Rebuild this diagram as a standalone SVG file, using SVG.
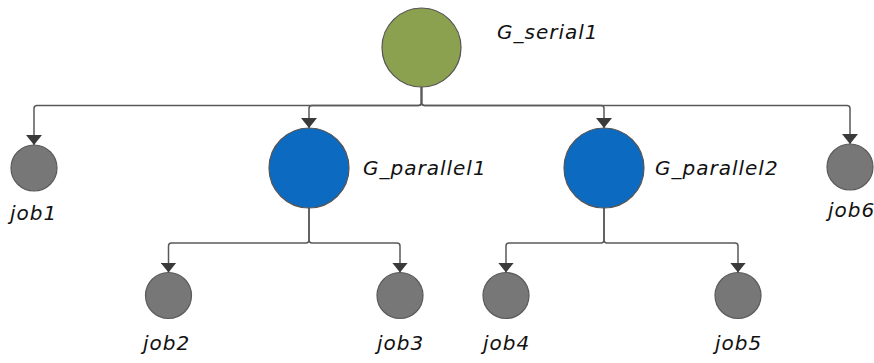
<svg xmlns="http://www.w3.org/2000/svg" width="874" height="363" viewBox="0 0 874 363">
<style>
.conn{fill:none;stroke:#595959;stroke-width:1.5}
.serial{fill:#8ca150;stroke:#555;stroke-width:1.2}
.par{fill:#0c6ac0;stroke:#555;stroke-width:1.2}
.job{fill:#777;stroke:#5a5a5a;stroke-width:1.2}
.lbl{font-family:"DejaVu Sans",sans-serif;font-style:oblique;font-size:20px;fill:#111;letter-spacing:1px}
</style>
<defs>
<marker id="arr" viewBox="0 -8 10 16" refX="10" refY="0" markerWidth="10" markerHeight="16" markerUnits="userSpaceOnUse" orient="auto">
<path d="M0,-8 L10,0 L0,8 z" fill="#3a3a3a"/>
</marker>
</defs>
<rect width="874" height="363" fill="#fff"/>
<g id="connectors">
<path class="conn" marker-end="url(#arr)" d="M421.5,87 V102 Q421.5,105.5 418.5,105.5 H37 Q34,105.5 34,108.5 V145"/>
<path class="conn" marker-end="url(#arr)" d="M421.5,87 V102 Q421.5,105.5 418.5,105.5 H312 Q309,105.5 309,108.5 V128"/>
<path class="conn" marker-end="url(#arr)" d="M421.5,87 V102 Q421.5,105.5 424.5,105.5 H601 Q604,105.5 604,108.5 V128"/>
<path class="conn" marker-end="url(#arr)" d="M421.5,87 V102 Q421.5,105.5 424.5,105.5 H847 Q850,105.5 850,108.5 V144"/>
<path class="conn" marker-end="url(#arr)" d="M309,208 V239.5 Q309,243 306,243 H171.5 Q168.5,243 168.5,246 V272.5"/>
<path class="conn" marker-end="url(#arr)" d="M309,208 V239.5 Q309,243 312,243 H397 Q400,243 400,246 V272.5"/>
<path class="conn" marker-end="url(#arr)" d="M604,208 V239.5 Q604,243 601,243 H509 Q506,243 506,246 V272.5"/>
<path class="conn" marker-end="url(#arr)" d="M604,208 V239.5 Q604,243 607,243 H735 Q738,243 738,246 V272.5"/>
</g>
<g id="G_serial1">
<circle class="serial" cx="421.5" cy="47.5" r="39.5"/>
<text class="lbl" x="497" y="39">G_serial1</text>
</g>
<g id="G_parallel1">
<circle class="par" cx="309" cy="168" r="40"/>
<text class="lbl" x="363" y="175">G_parallel1</text>
</g>
<g id="G_parallel2">
<circle class="par" cx="604" cy="168" r="40"/>
<text class="lbl" x="655" y="175">G_parallel2</text>
</g>
<g id="job1">
<circle class="job" cx="34" cy="168" r="23"/>
<text class="lbl" x="10" y="220">job1</text>
</g>
<g id="job6">
<circle class="job" cx="850" cy="167" r="23"/>
<text class="lbl" x="828" y="217">job6</text>
</g>
<g id="job2">
<circle class="job" cx="168.5" cy="295.5" r="23"/>
<text class="lbl" x="143" y="350">job2</text>
</g>
<g id="job3">
<circle class="job" cx="400" cy="295.5" r="23"/>
<text class="lbl" x="377" y="350">job3</text>
</g>
<g id="job4">
<circle class="job" cx="506" cy="295.5" r="23"/>
<text class="lbl" x="483" y="350">job4</text>
</g>
<g id="job5">
<circle class="job" cx="738" cy="295.5" r="23"/>
<text class="lbl" x="715" y="350">job5</text>
</g>
</svg>
